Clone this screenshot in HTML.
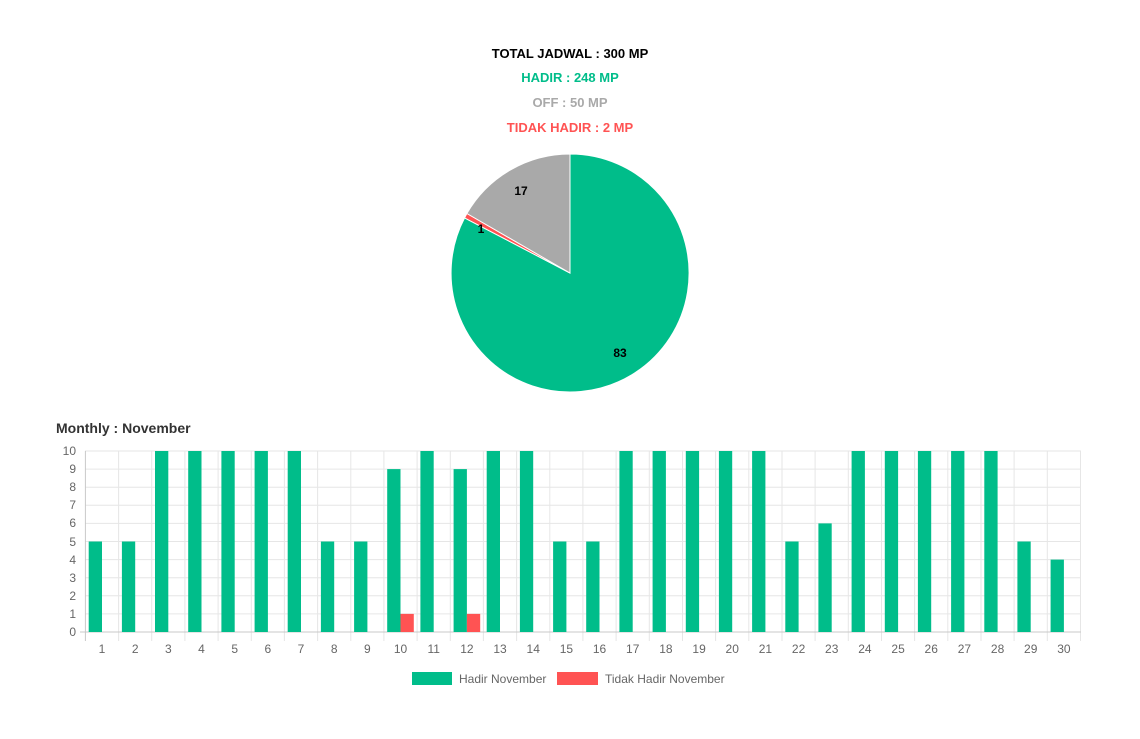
<!DOCTYPE html>
<html><head><meta charset="utf-8"><style>
body{margin:0;background:#fff;width:1140px;height:739px;overflow:hidden}
svg{display:block}
</style></head><body>
<svg width="1140" height="739" xmlns="http://www.w3.org/2000/svg">
<g font-family="Liberation Sans, sans-serif" font-weight="bold" font-size="13" text-anchor="middle">
<text x="570" y="58" fill="#000">TOTAL JADWAL : 300 MP</text>
<text x="570" y="82" fill="#00bd8a">HADIR : 248 MP</text>
<text x="570" y="107" fill="#a9a9a9">OFF : 50 MP</text>
<text x="570" y="132" fill="#ff5353">TIDAK HADIR : 2 MP</text>
</g>
<g stroke="#fff" stroke-width="1">
<path d="M570,273 L570,154 A119,119 0 1 1 464.6,217.9 Z" fill="#00bd8a"/>
<path d="M570,273 L464.6,217.9 A119,119 0 0 1 466.9,213.5 Z" fill="#ff5353"/>
<path d="M570,273 L466.9,213.5 A119,119 0 0 1 570,154 Z" fill="#a9a9a9"/>
</g>
<g font-family="Liberation Sans, sans-serif" font-weight="bold" font-size="12" fill="#000" text-anchor="middle">
<text x="521" y="195">17</text>
<text x="481" y="233">1</text>
<text x="620" y="357">83</text>
</g>
<text x="56" y="433" font-family="Liberation Sans, sans-serif" font-weight="bold" font-size="14" fill="#333">Monthly : November</text>
<g stroke="#e6e6e6" stroke-width="1">
<line x1="85" y1="451" x2="1081" y2="451"/><line x1="85" y1="469.1" x2="1081" y2="469.1"/><line x1="85" y1="487.2" x2="1081" y2="487.2"/><line x1="85" y1="505.3" x2="1081" y2="505.3"/><line x1="85" y1="523.4" x2="1081" y2="523.4"/><line x1="85" y1="541.5" x2="1081" y2="541.5"/><line x1="85" y1="559.6" x2="1081" y2="559.6"/><line x1="85" y1="577.7" x2="1081" y2="577.7"/><line x1="85" y1="595.8" x2="1081" y2="595.8"/><line x1="85" y1="613.9" x2="1081" y2="613.9"/>
<line x1="118.6" y1="451" x2="118.6" y2="641"/><line x1="151.7" y1="451" x2="151.7" y2="641"/><line x1="184.9" y1="451" x2="184.9" y2="641"/><line x1="218.1" y1="451" x2="218.1" y2="641"/><line x1="251.3" y1="451" x2="251.3" y2="641"/><line x1="284.4" y1="451" x2="284.4" y2="641"/><line x1="317.6" y1="451" x2="317.6" y2="641"/><line x1="350.8" y1="451" x2="350.8" y2="641"/><line x1="383.9" y1="451" x2="383.9" y2="641"/><line x1="417.1" y1="451" x2="417.1" y2="641"/><line x1="450.3" y1="451" x2="450.3" y2="641"/><line x1="483.4" y1="451" x2="483.4" y2="641"/><line x1="516.6" y1="451" x2="516.6" y2="641"/><line x1="549.8" y1="451" x2="549.8" y2="641"/><line x1="582.9" y1="451" x2="582.9" y2="641"/><line x1="616.1" y1="451" x2="616.1" y2="641"/><line x1="649.3" y1="451" x2="649.3" y2="641"/><line x1="682.5" y1="451" x2="682.5" y2="641"/><line x1="715.6" y1="451" x2="715.6" y2="641"/><line x1="748.8" y1="451" x2="748.8" y2="641"/><line x1="782" y1="451" x2="782" y2="641"/><line x1="815.1" y1="451" x2="815.1" y2="641"/><line x1="848.3" y1="451" x2="848.3" y2="641"/><line x1="881.5" y1="451" x2="881.5" y2="641"/><line x1="914.6" y1="451" x2="914.6" y2="641"/><line x1="947.8" y1="451" x2="947.8" y2="641"/><line x1="981" y1="451" x2="981" y2="641"/><line x1="1014.1" y1="451" x2="1014.1" y2="641"/><line x1="1047.3" y1="451" x2="1047.3" y2="641"/><line x1="1080.5" y1="451" x2="1080.5" y2="641"/>
</g>
<g stroke="#c8c8c8"><line x1="85.4" y1="451" x2="85.4" y2="641"/><line x1="80" y1="632" x2="1081" y2="632"/></g>
<g font-family="Liberation Sans, sans-serif" font-size="12" fill="#666" text-anchor="end">
<text x="76" y="455">10</text><text x="76" y="473">9</text><text x="76" y="491">8</text><text x="76" y="509">7</text><text x="76" y="527">6</text><text x="76" y="546">5</text><text x="76" y="564">4</text><text x="76" y="582">3</text><text x="76" y="600">2</text><text x="76" y="618">1</text><text x="76" y="636">0</text>
</g>
<g fill="#00bd8a">
<rect x="88.7" y="541.5" width="13.3" height="90.5"/><rect x="121.9" y="541.5" width="13.3" height="90.5"/><rect x="155" y="451" width="13.3" height="181"/><rect x="188.2" y="451" width="13.3" height="181"/><rect x="221.4" y="451" width="13.3" height="181"/><rect x="254.6" y="451" width="13.3" height="181"/><rect x="287.7" y="451" width="13.3" height="181"/><rect x="320.9" y="541.5" width="13.3" height="90.5"/><rect x="354.1" y="541.5" width="13.3" height="90.5"/><rect x="387.2" y="469.1" width="13.3" height="162.9"/><rect x="420.4" y="451" width="13.3" height="181"/><rect x="453.6" y="469.1" width="13.3" height="162.9"/><rect x="486.7" y="451" width="13.3" height="181"/><rect x="519.9" y="451" width="13.3" height="181"/><rect x="553.1" y="541.5" width="13.3" height="90.5"/><rect x="586.2" y="541.5" width="13.3" height="90.5"/><rect x="619.4" y="451" width="13.3" height="181"/><rect x="652.6" y="451" width="13.3" height="181"/><rect x="685.8" y="451" width="13.3" height="181"/><rect x="718.9" y="451" width="13.3" height="181"/><rect x="752.1" y="451" width="13.3" height="181"/><rect x="785.3" y="541.5" width="13.3" height="90.5"/><rect x="818.4" y="523.4" width="13.3" height="108.6"/><rect x="851.6" y="451" width="13.3" height="181"/><rect x="884.8" y="451" width="13.3" height="181"/><rect x="917.9" y="451" width="13.3" height="181"/><rect x="951.1" y="451" width="13.3" height="181"/><rect x="984.3" y="451" width="13.3" height="181"/><rect x="1017.4" y="541.5" width="13.3" height="90.5"/><rect x="1050.6" y="559.6" width="13.3" height="72.4"/>
</g>
<g fill="#ff5353"><rect x="400.5" y="613.9" width="13.3" height="18.1"/><rect x="466.9" y="613.9" width="13.3" height="18.1"/></g>
<g font-family="Liberation Sans, sans-serif" font-size="12" fill="#666" text-anchor="middle">
<text x="102" y="653">1</text><text x="135.2" y="653">2</text><text x="168.3" y="653">3</text><text x="201.5" y="653">4</text><text x="234.7" y="653">5</text><text x="267.9" y="653">6</text><text x="301" y="653">7</text><text x="334.2" y="653">8</text><text x="367.4" y="653">9</text><text x="400.5" y="653">10</text><text x="433.7" y="653">11</text><text x="466.9" y="653">12</text><text x="500" y="653">13</text><text x="533.2" y="653">14</text><text x="566.4" y="653">15</text><text x="599.5" y="653">16</text><text x="632.7" y="653">17</text><text x="665.9" y="653">18</text><text x="699.1" y="653">19</text><text x="732.2" y="653">20</text><text x="765.4" y="653">21</text><text x="798.6" y="653">22</text><text x="831.7" y="653">23</text><text x="864.9" y="653">24</text><text x="898.1" y="653">25</text><text x="931.2" y="653">26</text><text x="964.4" y="653">27</text><text x="997.6" y="653">28</text><text x="1030.7" y="653">29</text><text x="1063.9" y="653">30</text>
</g>
<rect x="412" y="672" width="40" height="13" fill="#00bd8a"/>
<rect x="557" y="672" width="41" height="13" fill="#ff5353"/>
<g font-family="Liberation Sans, sans-serif" font-size="12" fill="#666">
<text x="459" y="683">Hadir November</text>
<text x="605" y="683">Tidak Hadir November</text>
</g>
</svg>
</body></html>
